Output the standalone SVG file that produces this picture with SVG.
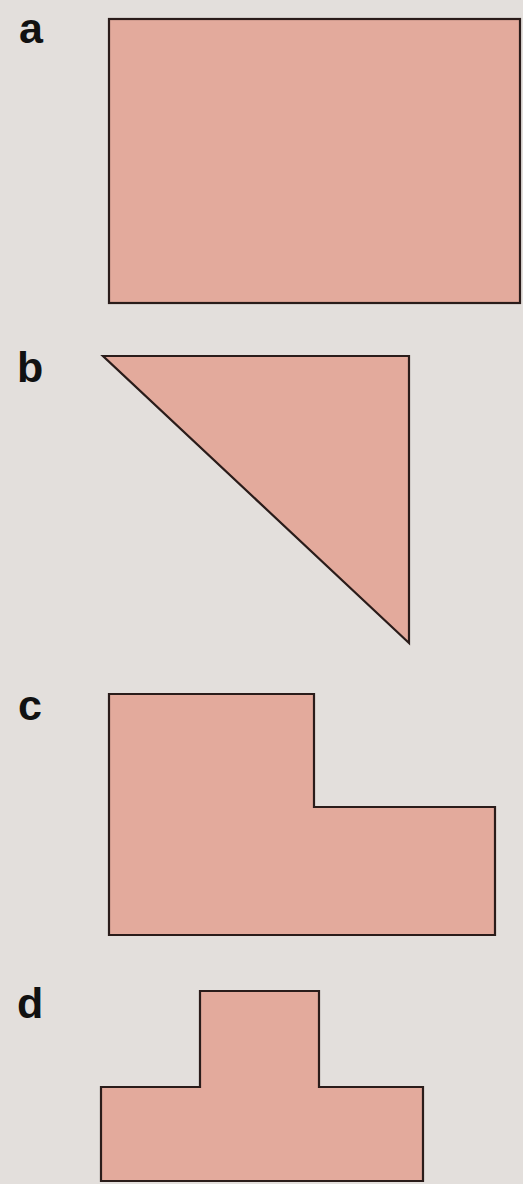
<svg xmlns="http://www.w3.org/2000/svg" width="523" height="1184" viewBox="0 0 523 1184">
<style>
.shape{fill:#e3aa9c;stroke:#2a1c1a;stroke-width:2.2;stroke-linejoin:miter}
.lbl{font-family:"Liberation Sans",Arial,sans-serif;font-weight:bold;font-size:43px;fill:#111}
</style>
<rect x="0" y="0" width="523" height="1184" fill="#e3dfdc"/>
<g id="a">
<text class="lbl" x="19" y="43">a</text>
<rect class="shape" x="109" y="19" width="411" height="284"/>
</g>
<g id="b">
<text class="lbl" x="17" y="382">b</text>
<polygon class="shape" points="103,356 409,356 409,643"/>
</g>
<g id="c">
<text class="lbl" x="18" y="720">c</text>
<polygon class="shape" points="109,694 314,694 314,807 495,807 495,935 109,935"/>
</g>
<g id="d">
<text class="lbl" x="17" y="1018">d</text>
<polygon class="shape" points="200,991 319,991 319,1087 423,1087 423,1181 101,1181 101,1087 200,1087"/>
</g>
<g id="connectors"/>
</svg>
